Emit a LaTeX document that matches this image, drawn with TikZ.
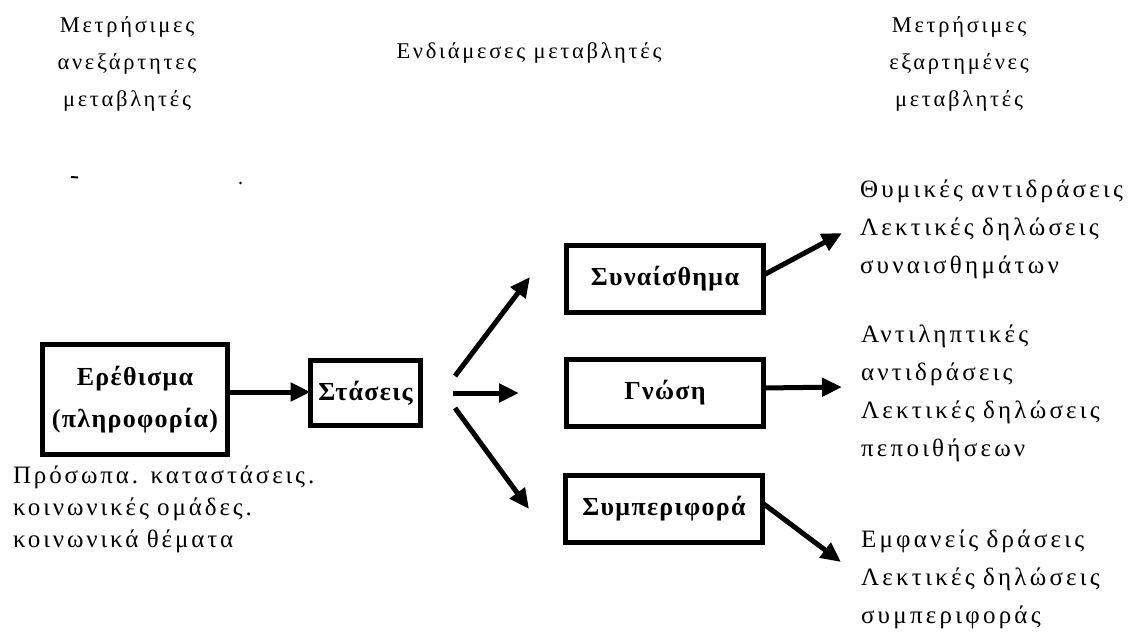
\documentclass[tikz,border=0pt]{standalone}
\usepackage{fontspec}
\setmainfont{Liberation Serif}
\newfontfamily\hdrfont[LetterSpace=12]{Liberation Serif}
\newfontfamily\bodyfont[LetterSpace=13]{Liberation Serif}
\newfontfamily\leftfont[LetterSpace=11.5]{Liberation Serif}
\newfontfamily\boxfont[LetterSpace=5]{Liberation Serif}
\usetikzlibrary{arrows.meta}
\begin{document}
\begin{tikzpicture}[x=1pt,y=-1pt,
  hdr/.style={inner sep=0pt,outer sep=0pt,font=\fontsize{22.5}{37}\hdrfont\selectfont},
  lbl/.style={inner sep=0pt,outer sep=0pt,font=\fontsize{25}{38}\bodyfont\selectfont},
  box/.style={draw,line width=5pt,inner sep=0pt,outer sep=0pt,align=center,
    font=\fontsize{26}{42}\boxfont\bfseries\selectfont},
  arr/.style={line width=5pt,-{Triangle[length=20pt,width=18pt]}}]
\useasboundingbox (0,0) rectangle (1128,632);
% headers
\node[hdr,anchor=base,text width=200pt,align=center] (hl) at (127,32)
  {Μετρήσιμες\\ανεξάρτητες\\μεταβλητές};
\node[hdr,anchor=base] (hm) at (529,58) {Ενδιάμεσες μεταβλητές};
\node[hdr,anchor=base,text width=200pt,align=center] (hr) at (959,32)
  {Μετρήσιμες\\εξαρτημένες\\μεταβλητές};
% boxes
\node[box,minimum width=185pt,minimum height=110pt] (er) at (135,399.5)
  {Ερέθισμα\\(πληροφορία)};
\node[box,minimum width=110pt,minimum height=65pt] (st) at (365.5,393) {Στάσεις};
\node[box,minimum width=197pt,minimum height=67pt] (sy) at (665,279) {Συναίσθημα};
\node[box,minimum width=197pt,minimum height=67pt] (gn) at (665,392.5) {Γνώση};
\node[box,minimum width=197pt,minimum height=67pt] (sp) at (664,508.5) {Συμπεριφορά};
% texts
\node[lbl,anchor=base west,text width=270pt,align=left] (t1) at (860,197)
  {Θυμικές αντιδράσεις\\Λεκτικές δηλώσεις\\συναισθημάτων};
\node[lbl,anchor=base west,text width=270pt,align=left] (t2) at (861,342)
  {Αντιληπτικές\\αντιδράσεις\\Λεκτικές δηλώσεις\\πεποιθήσεων};
\node[lbl,anchor=base west,text width=270pt,align=left] (t3) at (861,547)
  {Εμφανείς δράσεις\\Λεκτικές δηλώσεις\\συμπεριφοράς};
\node[lbl,anchor=base west,text width=330pt,align=left,
  font=\fontsize{25}{32}\leftfont\selectfont] (t0) at (13,483)
  {Πρόσωπα. καταστάσεις.\\κοινωνικές ομάδες.\\κοινωνικά θέματα};
% arrows
\coordinate (fu) at (455,376);
\coordinate (fm) at (453,393);
\coordinate (fd) at (455,408);
\coordinate (tu) at (530,277);
\coordinate (tm) at (519,393);
\coordinate (td) at (529,509);
\coordinate (r1) at (842,233);
\coordinate (r2) at (842,387);
\coordinate (r3) at (841,562);
\draw[arr] (er.east |- 0,392) -- (st.west |- 0,392);
\draw[arr] (fu) -- (tu);
\draw[arr] (fm) -- (tm);
\draw[arr] (fd) -- (td);
\draw[arr] (sy.east |- 0,275) -- (r1);
\draw[arr] (gn.east |- 0,388) -- (r2);
\draw[arr] (sp.east |- 0,503) -- (r3);
% scan specks
\draw[line width=2pt] (71,177) -- (78,177.5);
\fill (240.5,183) circle (1.3pt);
\end{tikzpicture}
\end{document}
